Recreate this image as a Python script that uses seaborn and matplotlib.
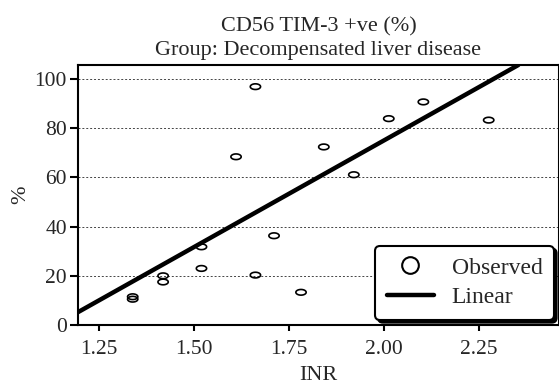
import numpy as np
import matplotlib
matplotlib.use("Agg")
import matplotlib.pyplot as plt
from matplotlib.path import Path
from matplotlib.lines import Line2D
import seaborn as sns

# ============================================================
# DATA
# ============================================================

inr = [1.338, 1.338, 1.418, 1.418, 1.519, 1.519, 1.610, 1.661,
       1.661, 1.710, 1.781, 1.841, 1.920, 2.012, 2.103, 2.275]
pct = [10.5, 11.5, 20.0, 17.5, 31.8, 23.0, 68.4, 96.9,
       20.3, 36.3, 13.3, 72.4, 61.1, 83.9, 90.7, 83.3]

# linear fit as drawn in the reference
fit_slope = 86.7
fit_intercept = -98.3

x_ticks = [1.25, 1.50, 1.75, 2.00, 2.25]
y_ticks = [0, 20, 40, 60, 80, 100]

title = "CD56 TIM-3 +ve (%)\nGroup: Decompensated liver disease"

# ============================================================
# STYLE
# ============================================================

sns.set_style("white")
plt.rcParams["font.family"] = ["Liberation Serif", "DejaVu Serif"]
plt.rcParams["font.size"] = 15

fig = plt.figure(figsize=(5.59, 3.84), dpi=100)
ax = fig.add_axes([0.1395, 0.1536, 0.8605, 0.6771])

# flattened ellipse marker
t = np.linspace(0, 2 * np.pi, 41)
ellipse = Path(np.column_stack([np.cos(t), 0.55 * np.sin(t)]), closed=True)

ax.yaxis.grid(True, linestyle=(0, (2, 2)), color="#444444", linewidth=0.7)
ax.set_axisbelow(True)

sns.scatterplot(
    x=inr,
    y=pct,
    marker=ellipse,
    s=55,
    facecolor="none",
    edgecolor="black",
    linewidth=1.2,
    ax=ax,
    zorder=3,
)

ax.axline((0, fit_intercept), slope=fit_slope, color="black", lw=3.2, zorder=4)

ax.set_xlim(1.194, 2.46)
ax.set_ylim(0, 105.7)
ax.set_xticks(x_ticks)
ax.set_xticklabels([f"{v:.2f}" for v in x_ticks])
ax.set_yticks(y_ticks)
ax.set_yticklabels([str(v) for v in y_ticks])

for s in ax.spines.values():
    s.set_color("black")
    s.set_linewidth(1.5)

ax.tick_params(axis="y", direction="out", length=6, width=1.5,
               color="black", left=True, labelsize=15.5, pad=2)
ax.tick_params(axis="x", direction="out", length=4, width=1.5,
               color="black", bottom=True, labelsize=15.5, pad=7)

ax.set_xlabel("INR", fontsize=16, labelpad=4.5)
ax.set_ylabel("%", fontsize=16, labelpad=3)
ax.set_title(title, fontsize=16, linespacing=1.35, pad=7)

handles = [
    Line2D([], [], marker="o", linestyle="none", markersize=12,
           markerfacecolor="none", markeredgecolor="black", markeredgewidth=1.5),
    Line2D([], [], color="black", lw=3.2),
]

leg = ax.legend(
    handles,
    ["Observed", "Linear"],
    loc="lower right",
    fontsize=17,
    frameon=True,
    fancybox=True,
    shadow={"color": "black", "alpha": 1},
    handlelength=2.0,
    borderaxespad=0.22,
    labelspacing=0.35,
    handletextpad=0.75,
    borderpad=0.48,
)
leg.get_frame().set_edgecolor("black")
leg.get_frame().set_linewidth(1.5)
leg.get_frame().set_alpha(1)

fig.savefig("out.png", dpi=100)
